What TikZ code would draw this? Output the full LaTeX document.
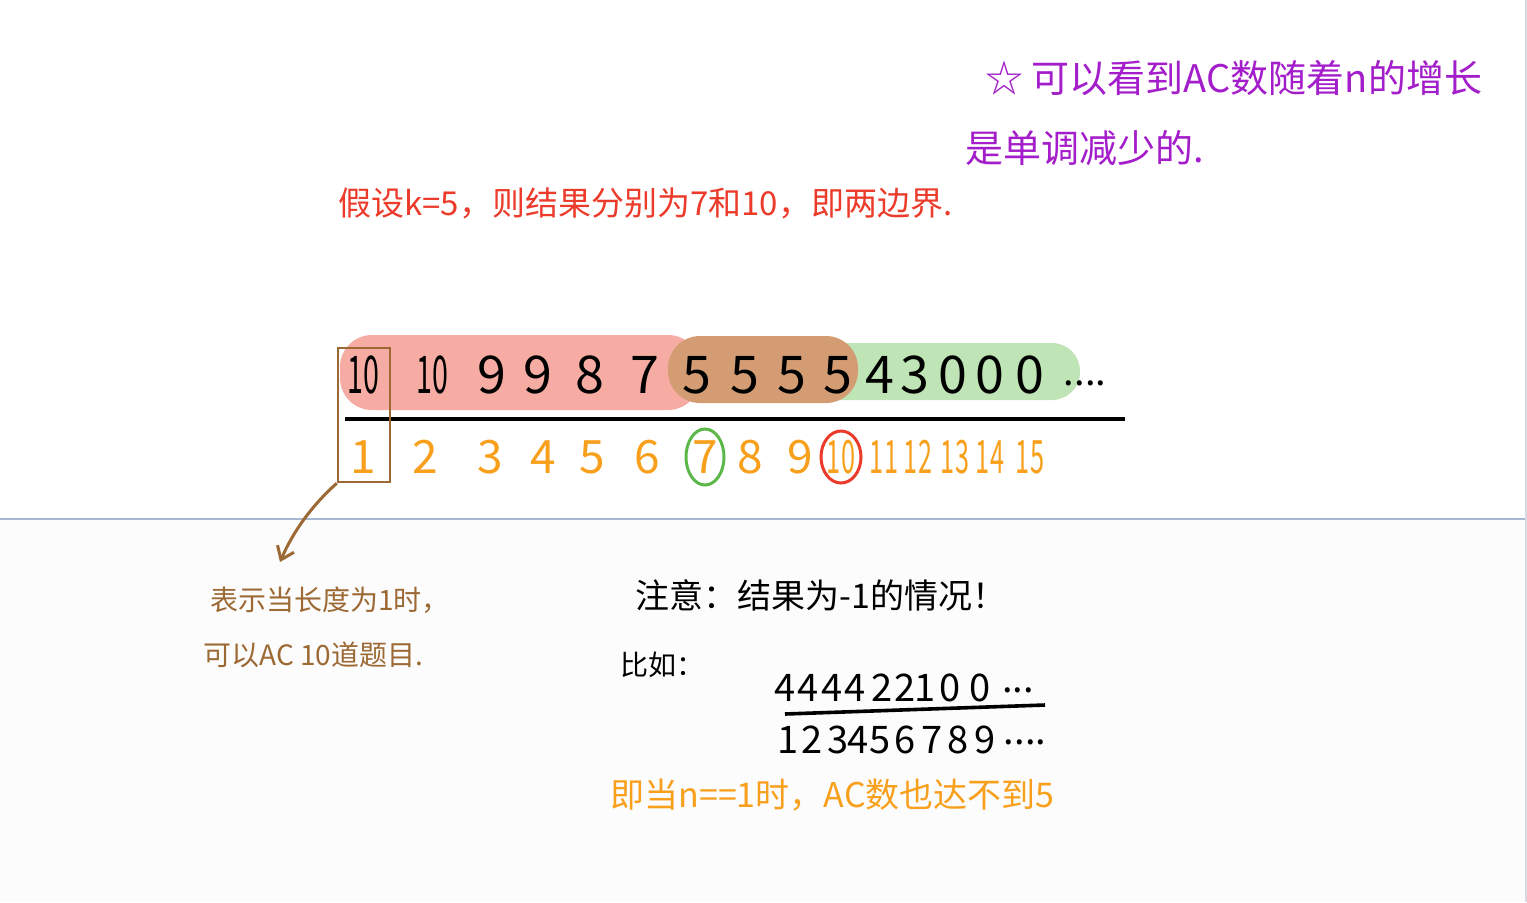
\documentclass[tikz,border=0pt]{standalone}
\usepackage{fontspec}
\setmainfont{Noto Sans CJK SC}
\usepackage{xcolor}
\usetikzlibrary{shapes,arrows.meta,positioning}

\definecolor{notepurple}{HTML}{A41DCA}
\definecolor{notered}{HTML}{EC3B2A}
\definecolor{noteorange}{HTML}{F8A01C}
\definecolor{notebrown}{HTML}{9C6934}
\definecolor{notegreen}{HTML}{5DB84A}
\definecolor{bandpink}{HTML}{F6ACA3}
\definecolor{bandbrown}{HTML}{D39C73}
\definecolor{bandgreen}{HTML}{BFE4B6}
\definecolor{ruleblue}{HTML}{A7B8D1}
\definecolor{edgegray}{HTML}{D8DAE2}
\definecolor{pagegray}{HTML}{FCFCFC}

\newcommand{\narrow}[1]{\scalebox{0.55}[1]{#1}}

\begin{document}
\begin{tikzpicture}[x=0.5pt, y=-0.5pt,
    note/.style={anchor=west, inner sep=0pt, font=\fontsize{17}{20}\selectfont},
    val/.style={inner sep=0pt, font=\fontsize{26}{28}\selectfont},
    idx/.style={inner sep=0pt, text=noteorange, font=\fontsize{23}{26}\selectfont},
    small/.style={inner sep=0pt, font=\fontsize{19}{20}\selectfont},
    ring/.style={ellipse, draw, line width=1.5pt, inner sep=0pt},
]
    % page
    \fill[white] (0,0) rectangle (1527,902);
    \fill[pagegray] (0,519) rectangle (1525,902);
    \useasboundingbox (0,0) rectangle (1527,902);
    \draw[ruleblue, line width=1pt] (0,519) -- (1525,519);
    \draw[edgegray, line width=1pt] (1526,0) -- (1526,902);

    % remarks on top
    \node[note, text=notepurple, font=\fontsize{19}{22}\selectfont] (trend1) at (985,78) {☆ 可以看到AC数随着n的增长};
    \node[note, text=notepurple, font=\fontsize{19}{22}\selectfont] (trend2) at (965,148) {是单调减少的.};
    \node[note, text=notered, font=\fontsize{16.5}{20}\selectfont] (guess) at (338,203) {假设k=5，则结果分别为7和10，即两边界.};

    % highlight bands
    \fill[bandpink, rounded corners=16pt] (340,335) rectangle (700,410);
    \fill[bandgreen, rounded corners=14pt] (690,343) rectangle (1080,400);
    \fill[bandbrown, rounded corners=16pt] (668,336) rectangle (858,403);

    % AC counts
    \foreach \x/\t [count=\i] in {363/\narrow{10}, 432/\narrow{10}, 492/9, 538/9, 590/8, 645/7,
        697/5, 745/5, 792/5, 838/5, 880/4, 915/3, 953/0, 990/0, 1030/0}
        \node[val] (v\i) at (\x,375) {\t};
    \node[small] (vdots) at (1085,383) {....};
    \draw[line width=2pt] (345,419) -- (1125,419);

    % lengths
    \foreach \x/\t [count=\i] in {363/1, 425/2, 490/3, 543/4, 592/5, 647/6, 705/7, 750/8, 800/9,
        841/\narrow{10}, 884/\narrow{11}, 918/\narrow{12}, 955/\narrow{13}, 990/\narrow{14}, 1030/\narrow{15}}
        \node[idx] (n\i) at (\x,457) {\t};

    \node[ring, draw=notegreen, minimum width=19pt, minimum height=28pt] (ring7) at (n7) {};
    \node[ring, draw=notered, minimum width=20pt, minimum height=26pt] (ring10) at (n10) {};

    % length one
    \node[draw=notebrown, line width=1.2pt, minimum width=26pt, minimum height=67pt, inner sep=0pt] (onebox) at (364,415) {};
    \coordinate (tip) at (280,562);
    \draw[notebrown, line width=1.5pt, -{Straight Barb[length=6pt,width=9pt]}]
        (onebox.south west) .. controls (318,500) and (296,525) .. (tip);
    \node[note, text=notebrown, font=\fontsize{14}{16}\selectfont] (one1) at (210,600) {表示当长度为1时，};
    \node[note, text=notebrown, font=\fontsize{14}{16}\selectfont] (one2) at (203,655) {可以AC 10道题目.};

    % the -1 case
    \node[note] (warn) at (635,595) {注意：结果为-1的情况！};
    \node[note, font=\fontsize{14}{16}\selectfont] (eg) at (620,665) {比如：};
    \foreach \x/\t [count=\i] in {785/4, 808/4, 832/4, 855/4, 882/2, 905/2, 925/1, 950/0, 980/0}
        \node[small] (a\i) at (\x,688) {\t};
    \node[small] (adots) at (1018,690) {...};
    \draw[line width=1.8pt] (785,714) -- (1045,705);
    \foreach \x/\t [count=\i] in {788/1, 812/2, 838/3, 858/4, 880/5, 905/6, 932/7, 958/8, 985/9}
        \node[small] (b\i) at (\x,740) {\t};
    \node[small] (bdots) at (1025,742) {....};
    \node[note, text=noteorange] (never) at (610,795) {即当n==1时，AC数也达不到5};
\end{tikzpicture}
\end{document}
